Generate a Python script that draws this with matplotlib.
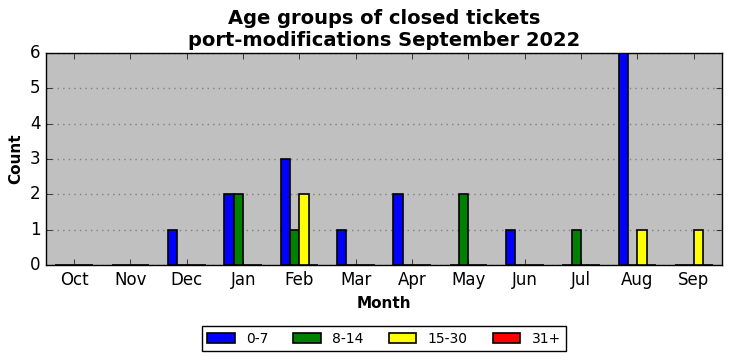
import matplotlib
matplotlib.use("Agg")
import matplotlib.pyplot as plt
import numpy as np

plt.style.use("classic")

months = ["Oct", "Nov", "Dec", "Jan", "Feb", "Mar", "Apr", "May", "Jun", "Jul", "Aug", "Sep"]
age_groups = ["0-7", "8-14", "15-30", "31+"]
colors = ["blue", "green", "yellow", "red"]
vals_0_7 = [0, 0, 1, 2, 3, 1, 2, 0, 1, 0, 6, 0]
vals_8_14 = [0, 0, 0, 2, 1, 0, 0, 2, 0, 1, 0, 0]
vals_15_30 = [0, 0, 0, 0, 2, 0, 0, 0, 0, 0, 1, 1]
vals_31p = [0, 0, 0, 0, 0, 0, 0, 0, 0, 0, 0, 0]
series = [vals_0_7, vals_8_14, vals_15_30, vals_31p]

fig = plt.figure(figsize=(7.32, 3.61), dpi=100, facecolor="white")
ax = fig.add_axes([0.0628, 0.2659, 0.9235, 0.5873])
ax.set_facecolor("silver")

x = np.arange(len(months))
w = 0.168
for i, (name, vals, c) in enumerate(zip(age_groups, series, colors)):
    ax.bar(x + (i - 1.5) * w, vals, width=w, color=c, edgecolor="black",
           linewidth=1.2, label=name, align="center", zorder=3)

ax.set_xlim(-0.5, 11.5)
ax.set_ylim(0, 6)
ax.set_xticks(x)
ax.set_xticklabels(months, fontsize=12)
ax.set_yticks(range(0, 7))
ax.tick_params(axis="y", labelsize=12)
ax.yaxis.grid(True, linestyle=":", color="gray", linewidth=1)
ax.set_axisbelow(True)
ax.set_xlabel("Month", fontsize=11, fontweight="bold")
ax.set_ylabel("Count", fontsize=11, fontweight="bold")
ax.set_title("Age groups of closed tickets\nport-modifications September 2022",
             fontsize=14, fontweight="bold", pad=5)
ax.legend(loc="upper center", bbox_to_anchor=(0.5, -0.255), ncol=4,
          fontsize=10, fancybox=False, frameon=True, columnspacing=1.8)

fig.savefig("out.png", dpi=100, facecolor="white")
